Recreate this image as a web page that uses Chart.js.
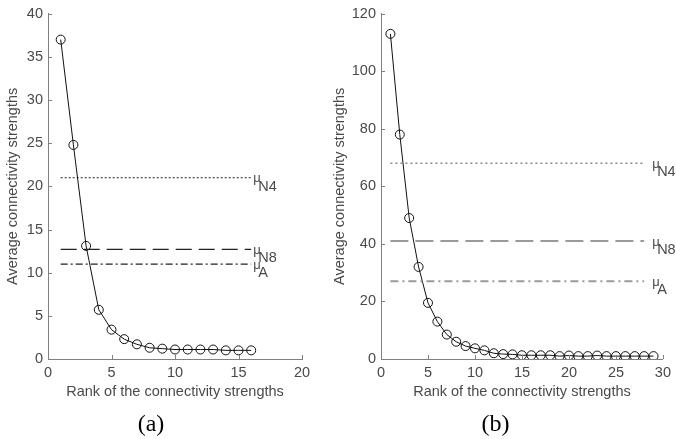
<!DOCTYPE html>
<html>
<head>
<meta charset="utf-8">
<script src="https://cdn.jsdelivr.net/npm/chart.js@4"></script>
<style>
  html, body { margin: 0; padding: 0; background: #fff; }
  #wrap { position: relative; width: 676px; height: 439px; overflow: hidden; }
  #boxA { position: absolute; left: 0; top: 0; width: 328px; height: 439px; }
  #boxB { position: absolute; left: 328px; top: 0; width: 348px; height: 439px; }
</style>
</head>
<body>
<div id="wrap">
  <div id="boxA"><canvas id="chartA"></canvas></div>
  <div id="boxB"><canvas id="chartB"></canvas></div>
</div>
<script>
// ---------- data ----------
const ranksA = [1,2,3,4,5,6,7,8,9,10,11,12,13,14,15,16];
const strengthA = [37,24.8,13.1,5.7,3.4,2.3,1.7,1.3,1.2,1.1,1.1,1.1,1.1,1.0,1.0,1.0];
const refSpanA = [1,16];
const muN4A = 21;
const muN8A = 12.7;
const muAA = 11.0;

const ranksB = [1,2,3,4,5,6,7,8,9,10,11,12,13,14,15,16,17,18,19,20,21,22,23,24,25,26,27,28,29];
const strengthB = [113,78,49,32,19.5,13,8.5,6,4.5,3.7,3,2,1.7,1.6,1.3,1.3,1.3,1.3,1.0,1.2,1.0,1.0,1.2,1.0,1.0,1.0,1.0,1.0,1.0];
const refSpanB = [1,28];
const muN4B = 68;
const muN8B = 41;
const muAB = 27;

const xTitle = 'Rank of the connectivity strengths';
const yTitle = 'Average connectivity strengths';
const refNames = ['N4','N8','A'];

// ---------- styling ----------
const axisColor = '#808080';
const textColor = '#4a4a4a';
const sans = "'Liberation Sans', Arial, sans-serif";
const fs = 14.5;

const insideTicksAndLabels = {
  id: 'insideTicksAndLabels',
  afterDatasetsDraw(chart) {
    const ctx = chart.ctx;
    const xs = chart.scales.x, ys = chart.scales.y;
    ctx.save();
    ctx.strokeStyle = axisColor;
    ctx.lineWidth = 1;
    xs.ticks.forEach(t => {
      const px = Math.round(xs.getPixelForValue(t.value)) + 0.5;
      ctx.beginPath(); ctx.moveTo(px, ys.bottom); ctx.lineTo(px, ys.bottom - 4); ctx.stroke();
    });
    ys.ticks.forEach(t => {
      const py = Math.round(ys.getPixelForValue(t.value)) + 0.5;
      ctx.beginPath(); ctx.moveTo(xs.left, py); ctx.lineTo(xs.left + 4, py); ctx.stroke();
    });
    // reference line labels
    chart.data.datasets.forEach((ds, i) => {
      if (!ds.refName) return;
      const meta = chart.getDatasetMeta(i);
      const last = meta.data[meta.data.length - 1];
      const x0 = last.x + ds.labelGap;
      const y0 = last.y;
      ctx.fillStyle = textColor;
      ctx.textBaseline = 'middle';
      ctx.textAlign = 'left';
      ctx.font = '13px ' + sans;
      ctx.fillText('\u03BC', x0, y0 + 1);
      ctx.font = fs + 'px ' + sans;
      ctx.fillText(ds.refName, x0 + 5, y0 + 9);
    });
    ctx.restore();
  }
};

function refDataset(name, span, value, color, dash, width, gap) {
  return {
    label: '\u03BC' + name,
    refName: name,
    labelGap: gap,
    data: span.map(x => ({x: x, y: value})),
    borderColor: color,
    borderWidth: width,
    borderDash: dash,
    pointRadius: 0,
    fill: false,
    tension: 0
  };
}

function makeChart(id, cfg) {
  return new Chart(document.getElementById(id), {
    type: 'line',
    data: {
      datasets: [
        ...cfg.refs,
        {
          label: 'strength',
          data: cfg.xs.map((x, i) => ({x: x, y: cfg.ys[i]})),
          borderColor: '#111',
          borderWidth: 1,
          pointRadius: 4.5,
          pointBorderWidth: 1,
          pointBorderColor: '#111',
          pointBackgroundColor: 'rgba(0,0,0,0)',
          fill: false,
          tension: 0
        }
      ]
    },
    options: {
      responsive: false,
      animation: false,
      events: [],
      layout: { padding: cfg.padding },
      plugins: {
        legend: { display: false },
        tooltip: { enabled: false },
        title: {
          display: true,
          text: cfg.caption,
          position: 'bottom',
          color: '#000',
          font: { family: "'Liberation Serif', 'Times New Roman', serif", size: 24, weight: 'normal' },
          padding: { top: 8, bottom: 0 }
        }
      },
      scales: {
        x: {
          type: 'linear',
          min: 0, max: cfg.xMax,
          ticks: { stepSize: cfg.xStep, color: textColor, font: { family: sans, size: fs }, padding: 5, maxRotation: 0 },
          grid: { display: false, drawTicks: false },
          border: { display: true, color: axisColor, width: 1 },
          title: { display: true, text: xTitle, color: textColor, font: { family: sans, size: fs }, padding: { top: 0, bottom: 1.5 } },
          afterFit: s => { s.height = 43.2; }
        },
        y: {
          type: 'linear',
          min: 0, max: cfg.yMax,
          ticks: { stepSize: cfg.yStep, color: textColor, font: { family: sans, size: fs }, padding: 5 },
          grid: { display: false, drawTicks: false },
          border: { display: true, color: axisColor, width: 1 },
          title: { display: true, text: yTitle, color: textColor, font: { family: sans, size: fs }, padding: { top: cfg.yTitlePad, bottom: 0 } },
          afterFit: s => { s.width = cfg.yWidth; }
        }
      }
    },
    plugins: [insideTicksAndLabels]
  });
}

const cA = document.getElementById('chartA'); cA.width = 328; cA.height = 439;
const cB = document.getElementById('chartB'); cB.width = 348; cB.height = 439;

makeChart('chartA', {
  xs: ranksA, ys: strengthA, xMax: 20, xStep: 5, yMax: 40, yStep: 5,
  caption: '(a)', yWidth: 48, yTitlePad: 4.3,
  padding: { top: 13, right: 26, bottom: 0, left: 0 },
  refs: [
    refDataset(refNames[0], refSpanA, muN4A, '#222', [2, 2], 1, 2),
    refDataset(refNames[1], refSpanA, muN8A, '#222', [16, 7], 1.3, 2),
    refDataset(refNames[2], refSpanA, muAA, '#222', [7, 3, 2, 3], 1.3, 2)
  ]
});

makeChart('chartB', {
  xs: ranksB, ys: strengthB, xMax: 30, xStep: 5, yMax: 120, yStep: 20,
  caption: '(b)', yWidth: 53, yTitlePad: 3.3,
  padding: { top: 12, right: 13, bottom: 0, left: 0 },
  refs: [
    refDataset(refNames[0], refSpanB, muN4B, '#8a8a8a', [2, 3], 1.5, 8),
    refDataset(refNames[1], refSpanB, muN8B, '#9a9a9a', [18, 7], 2, 8),
    refDataset(refNames[2], refSpanB, muAB, '#9a9a9a', [8, 4, 2, 4], 2, 8)
  ]
});
</script>
</body>
</html>
